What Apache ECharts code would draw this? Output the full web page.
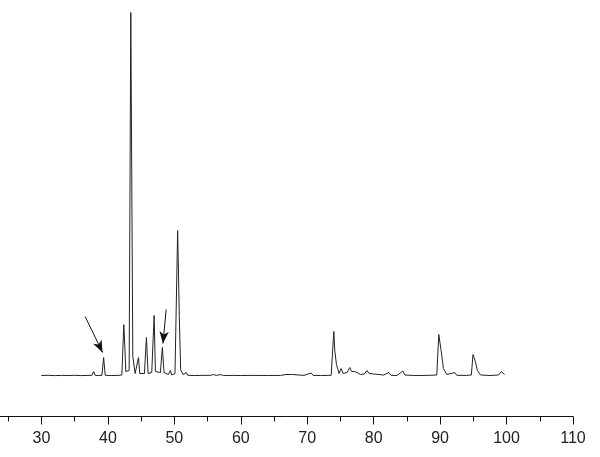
<!DOCTYPE html>
<html>
<head>
<meta charset="utf-8">
<script src="https://cdn.jsdelivr.net/npm/echarts@6/dist/echarts.min.js"></script>
<style>
  html, body { margin: 0; padding: 0; background: #fff; }
  #chart { width: 600px; height: 457px; }
</style>
</head>
<body>
<div id="chart"></div>
<script>
// 2theta (deg) and intensity (a.u.)
const twoTheta = [
  30.0, 31.0, 32.0, 33.0, 34.0, 35.0, 36.0, 37.0, 37.6, 37.85, 38.1, 38.6,
  39.1, 39.36, 39.6, 40.5, 41.5, 42.1, 42.4, 42.55, 42.7, 43.2, 43.45, 43.75,
  44.1, 44.4, 44.6, 44.8, 45.5, 45.8, 46.05, 46.6, 46.96, 47.15, 47.9, 48.2,
  48.45, 49.1, 49.4, 49.6, 50.1, 50.5, 50.75, 50.95, 51.3, 51.8, 52.0, 53.0,
  54.0, 55.5, 55.9, 56.3, 57.0, 57.4, 59.0, 60.0, 62.0, 64.0, 66.0, 66.8,
  67.1, 67.8, 68.1, 69.5, 70.6, 70.9, 72.0, 73.6, 74.0, 74.15, 74.4, 74.8,
  75.1, 75.4, 76.0, 76.4, 76.7, 77.1, 77.5, 78.0, 78.6, 79.0, 79.3, 80.0,
  80.8, 81.5, 82.3, 82.6, 83.5, 84.4, 84.7, 86.0, 88.0, 89.5, 89.8, 90.15,
  90.5, 91.0, 92.2, 92.5, 94.0, 94.7, 94.95, 95.3, 95.6, 96.1, 97.5, 98.8,
  99.2, 99.5, 99.7
];
const intensity = [
  410, 412, 409, 411, 410, 412, 409, 411, 412, 450, 411, 410,
  412, 590, 412, 410, 411, 415, 920, 700, 450, 460, 4040, 600,
  430, 440, 590, 430, 430, 790, 430, 440, 1010, 450, 440, 690,
  440, 420, 460, 415, 430, 1860, 1000, 470, 420, 440, 412, 410,
  411, 412, 420, 411, 419, 410, 411, 410, 411, 410, 411, 420,
  410, 420, 410, 411, 435, 411, 410, 412, 850, 660, 520, 430,
  480, 430, 440, 490, 450, 450, 440, 420, 425, 460, 430, 425,
  420, 415, 440, 412, 410, 455, 415, 410, 411, 415, 820, 660,
  480, 420, 440, 412, 411, 415, 620, 550, 460, 415, 410, 415,
  450, 430, 420
];
// arrows marking the minor phase peaks: [start, end] in (2theta, intensity)
const arrowLines = [
  [[36.58, 1000], [39.2, 640]],
  [[48.77, 1070], [48.29, 730]]
];

const chart = echarts.init(document.getElementById('chart'));
const points = twoTheta.map((t, i) => [t, intensity[i]]);

chart.setOption({
  animation: false,
  grid: { left: -25, right: 27, top: 6.5, bottom: 40.5, outerBoundsMode: 'none', containLabel: false },
  xAxis: {
    type: 'value',
    min: 20,
    max: 110,
    interval: 10,
    axisLine: { show: true, lineStyle: { color: '#111', width: 1 } },
    axisTick: { show: true, length: 8, lineStyle: { color: '#111' } },
    minorTick: { show: true, splitNumber: 2, length: 5, lineStyle: { color: '#111' } },
    splitLine: { show: false },
    axisLabel: {
      color: '#222',
      fontFamily: 'Liberation Sans',
      fontSize: 16,
      margin: 14
    }
  },
  yAxis: {
    type: 'value',
    min: 0,
    max: 4100,
    show: false
  },
  series: [{
    type: 'line',
    data: points,
    showSymbol: false,
    lineStyle: { color: '#222', width: 1 },
    markLine: {
      silent: true,
      symbol: ['none', 'arrow'],
      symbolSize: [7, 12],
      label: { show: false },
      lineStyle: { color: '#111', width: 1, type: 'solid' },
      data: arrowLines.map(a => [{ coord: a[0] }, { coord: a[1] }])
    }
  }]
});
</script>
</body>
</html>
